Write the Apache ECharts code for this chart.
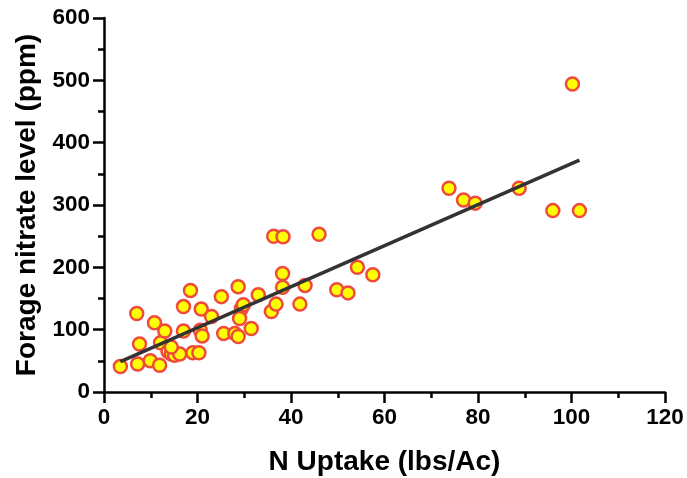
<!DOCTYPE html>
<html>
<head>
<meta charset="utf-8">
<script src="https://cdn.jsdelivr.net/npm/echarts@6/dist/echarts.min.js"></script>
<style>html,body{margin:0;padding:0;background:#fff}#c{width:687px;height:478px}</style>
</head>
<body>
<div id="c"></div>
<script>
// N uptake (lbs/Ac)
const nUptake = [3.5, 7.0, 7.2, 7.6, 9.9, 10.8, 11.9, 12.1, 13.0, 13.7, 14.4, 15.1, 16.2, 14.4,
  17.0, 17.0, 18.5, 19.0, 20.3, 20.8, 20.6, 21.0, 23.0, 25.1, 25.6, 28.0, 28.7, 28.7, 29.4, 29.8,
  29.0, 31.5, 33.0, 35.8, 36.8, 36.3, 38.3, 38.2, 38.2, 43.0, 41.9, 46.0, 49.8, 52.2, 54.2, 57.5,
  73.8, 76.9, 79.4, 88.8, 96.0, 101.7, 100.2];
// Forage nitrate level (ppm)
const nitrate = [41, 126, 45, 77, 50, 111, 43, 79, 98, 65, 61, 59, 61, 72,
  137, 98, 163, 63, 63, 133, 99, 90, 121, 153, 94, 94, 89, 169, 134, 140,
  118, 102, 156, 129, 141, 250, 249, 190, 168, 171, 141, 253, 164, 159, 200, 188,
  327, 308, 303, 327, 291, 291, 494];
// Regression line end points
const fitX = [3.5, 101.7];
const fitY = [48.6, 372];
const xTicks = [0, 20, 40, 60, 80, 100, 120];
const yTicks = [0, 100, 200, 300, 400, 500, 600];

const points = nUptake.map((x, i) => [x, nitrate[i]]);
const fitLine = fitX.map((x, i) => [x, fitY[i]]);

const font = 'Liberation Sans, Arial, sans-serif';
const axisCommon = {
  axisLine: { show: true, onZero: false, lineStyle: { color: '#000', width: 2.5 } },
  axisTick: { show: true, inside: false, length: 11, lineStyle: { color: '#000', width: 2.5 } },
  minorTick: { show: true, splitNumber: 2, length: 6, lineStyle: { color: '#000', width: 2.5 } },
  splitLine: { show: false },
  axisLabel: { color: '#000', fontSize: 22.5, fontWeight: 'bold', fontFamily: font, margin: 14 },
  nameLocation: 'middle',
  nameTextStyle: { color: '#000', fontSize: 28, fontWeight: 'bold', fontFamily: font }
};

const chart = echarts.init(document.getElementById('c'), null, { renderer: 'canvas' });
chart.setOption({
  animation: false,
  backgroundColor: '#fff',
  grid: { left: 104, top: 18, right: 22, bottom: 86, containLabel: false, outerBoundsMode: 'none' },
  xAxis: Object.assign({}, axisCommon, {
    type: 'value', min: xTicks[0], max: xTicks[xTicks.length - 1], interval: 20,
    name: 'N Uptake (lbs/Ac)', nameGap: 56
  }),
  yAxis: Object.assign({}, axisCommon, {
    type: 'value', min: yTicks[0], max: yTicks[yTicks.length - 1], interval: 100,
    name: 'Forage nitrate level (ppm)', nameGap: 62
  }),
  series: [
    {
      type: 'line', data: fitLine, symbol: 'none', z: 3,
      lineStyle: { color: '#333', width: 3.5 }
    },
    {
      type: 'scatter', data: points, symbol: 'circle', symbolSize: 13, z: 2,
      itemStyle: { color: '#FFFF00', borderColor: '#F04A3C', borderWidth: 2.5, opacity: 1 }
    }
  ]
});
</script>
</body>
</html>
